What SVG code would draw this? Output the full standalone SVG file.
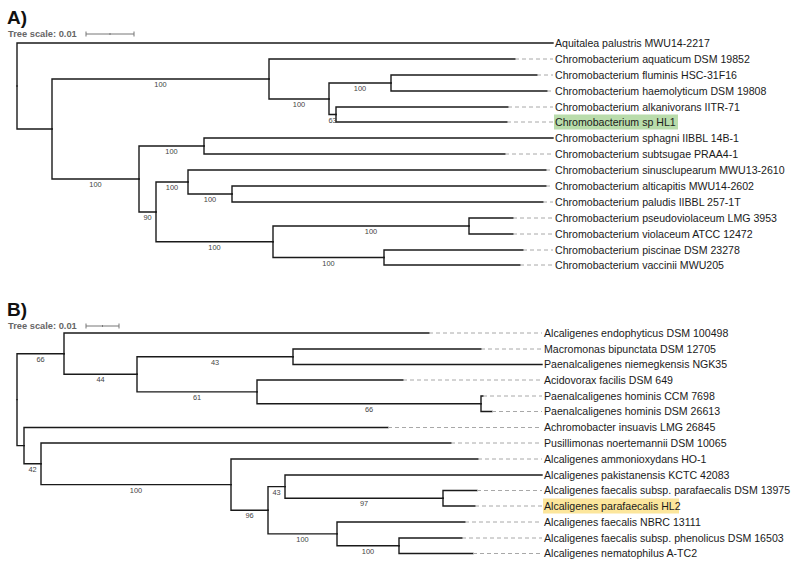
<svg xmlns="http://www.w3.org/2000/svg" width="798" height="571" viewBox="0 0 798 571">
<style>
text{font-family:"Liberation Sans",Arial,sans-serif}
.br{fill:none;stroke:#1a1a1a;stroke-width:1.4;stroke-linecap:square}
.ds{fill:none;stroke:#a8a8a8;stroke-width:1;stroke-dasharray:4 3}
.lf{font-size:10.6px;fill:#1a1a1a}
.bs{font-size:7.4px;fill:#444;text-anchor:middle}
.ttl{font-size:19px;font-weight:bold;fill:#111}
.sc{font-size:9.3px;font-weight:bold;fill:#666}
.sb{fill:none;stroke:#777;stroke-width:1}
</style>
<rect width="798" height="571" fill="#fff"/>

<g id="panelA-header">
<text class="ttl" x="7" y="24">A)</text>
<text class="sc" x="8" y="37">Tree scale: 0.01</text>
<path class="sb" d="M86,34H134M86,31.5V36.5M134,31.5V36.5M110,33V35"/>
</g>
<g id="panelB-header">
<text class="ttl" x="7" y="316">B)</text>
<text class="sc" x="8" y="329">Tree scale: 0.01</text>
<path class="sb" d="M86,326H119M86,323.5V328.5M119,323.5V328.5M102.5,325V327"/>
</g>

<g id="connectors">
<!-- Panel A branches -->
<path class="br" d="M17,86V43H553"/>
<path class="br" d="M17,86V129H52"/>
<path class="br" d="M52,129V79H269"/>
<path class="br" d="M52,129V179H139"/>
<path class="br" d="M269,79V59H515"/>
<path class="br" d="M269,79V99H329"/>
<path class="br" d="M329,99V83H391"/>
<path class="br" d="M329,99V114.5H336"/>
<path class="br" d="M391,83V75H537"/>
<path class="br" d="M391,83V91H547"/>
<path class="br" d="M336,114.5V107H508"/>
<path class="br" d="M336,114.5V122H507"/>
<path class="br" d="M139,179V146H204"/>
<path class="br" d="M139,179V212H156"/>
<path class="br" d="M204,146V138H553"/>
<path class="br" d="M204,146V154H505"/>
<path class="br" d="M156,212V182H188"/>
<path class="br" d="M156,212V241.75H273"/>
<path class="br" d="M188,182V170H546"/>
<path class="br" d="M188,182V194H232"/>
<path class="br" d="M232,194V186H546"/>
<path class="br" d="M232,194V202H543"/>
<path class="br" d="M273,241.75V226H469"/>
<path class="br" d="M273,241.75V257.5H384"/>
<path class="br" d="M469,226V218H513"/>
<path class="br" d="M469,226V234H513"/>
<path class="br" d="M384,257.5V250H523"/>
<path class="br" d="M384,257.5V265H520"/>
<!-- Panel A dashed extensions -->
<path class="ds" d="M515,59H553M537,75H553M547,91H553M508,107H553M507,122H553M505,154H553M546,170H553M546,186H553M543,202H553M513,218H553M513,234H553M523,250H553M520,265H553"/>

<!-- Panel B branches -->
<path class="br" d="M17,399.6V353.7H64"/>
<path class="br" d="M17,399.6V445.6H24"/>
<path class="br" d="M64,353.7V333H429"/>
<path class="br" d="M64,353.7V374.3H137"/>
<path class="br" d="M137,374.3V356.75H293"/>
<path class="br" d="M137,374.3V391.9H257"/>
<path class="br" d="M293,356.75V349H481"/>
<path class="br" d="M293,356.75V364.5H542"/>
<path class="br" d="M257,391.9V380H403"/>
<path class="br" d="M257,391.9V403.75H481"/>
<path class="br" d="M481,403.75V396H483"/>
<path class="br" d="M481,403.75V411.5H492"/>
<path class="br" d="M24,445.6V427.5H388"/>
<path class="br" d="M24,445.6V463.8H41"/>
<path class="br" d="M41,463.8V443H451"/>
<path class="br" d="M41,463.8V484.6H231"/>
<path class="br" d="M231,484.6V459H478"/>
<path class="br" d="M231,484.6V510.25H268"/>
<path class="br" d="M268,510.25V486.6H285"/>
<path class="br" d="M268,510.25V533.9H337"/>
<path class="br" d="M285,486.6V475H542"/>
<path class="br" d="M285,486.6V498.25H443"/>
<path class="br" d="M443,498.25V490.5H477"/>
<path class="br" d="M443,498.25V506H475"/>
<path class="br" d="M337,533.9V522H465"/>
<path class="br" d="M337,533.9V545.75H399"/>
<path class="br" d="M399,545.75V538H462"/>
<path class="br" d="M399,545.75V553.5H473"/>
<!-- Panel B dashed extensions -->
<path class="ds" d="M429,333H542M481,349H542M403,380H542M483,396H542M492,411.5H542M388,427.5H542M451,443H542M478,459H542M477,490.5H542M475,506H542M465,522H542M462,538H542M473,553.5H542"/>
</g>

<g id="support-values">
<text class="bs" x="160.5" y="87">100</text>
<text class="bs" x="95.5" y="187">100</text>
<text class="bs" x="299" y="107">100</text>
<text class="bs" x="360" y="91">100</text>
<text class="bs" x="332.5" y="122.5">63</text>
<text class="bs" x="171.5" y="154">100</text>
<text class="bs" x="147.5" y="220">90</text>
<text class="bs" x="172" y="190">100</text>
<text class="bs" x="210" y="202">100</text>
<text class="bs" x="214.5" y="249.75">100</text>
<text class="bs" x="371" y="234">100</text>
<text class="bs" x="328.5" y="265.5">100</text>

<text class="bs" x="40.5" y="361.7">66</text>
<text class="bs" x="100.5" y="382.3">44</text>
<text class="bs" x="215" y="364.75">43</text>
<text class="bs" x="197" y="399.9">61</text>
<text class="bs" x="369" y="411.75">66</text>
<text class="bs" x="32.5" y="471.8">42</text>
<text class="bs" x="136" y="492.6">100</text>
<text class="bs" x="249.5" y="518.25">96</text>
<text class="bs" x="276.5" y="494.6">43</text>
<text class="bs" x="302.5" y="541.9">100</text>
<text class="bs" x="364" y="506.25">97</text>
<text class="bs" x="368" y="553.75">100</text>
</g>

<g id="A-aquitalea-palustris"><text class="lf" x="555" y="46.8">Aquitalea palustris MWU14-2217</text></g>
<g id="A-aquaticum"><text class="lf" x="555" y="62.8">Chromobacterium aquaticum DSM 19852</text></g>
<g id="A-fluminis"><text class="lf" x="555" y="78.8">Chromobacterium fluminis HSC-31F16</text></g>
<g id="A-haemolyticum"><text class="lf" x="555" y="94.8">Chromobacterium haemolyticum DSM 19808</text></g>
<g id="A-alkanivorans"><text class="lf" x="555" y="110.8">Chromobacterium alkanivorans IITR-71</text></g>
<g id="A-sp-HL1"><rect x="554" y="114.5" width="124" height="15" fill="#b9dcab"/><text class="lf" x="555" y="125.8">Chromobacterium sp HL1</text></g>
<g id="A-sphagni"><text class="lf" x="555" y="141.8">Chromobacterium sphagni IIBBL 14B-1</text></g>
<g id="A-subtsugae"><text class="lf" x="555" y="157.8">Chromobacterium subtsugae PRAA4-1</text></g>
<g id="A-sinusclupearum"><text class="lf" x="555" y="173.8">Chromobacterium sinusclupearum MWU13-2610</text></g>
<g id="A-alticapitis"><text class="lf" x="555" y="189.8">Chromobacterium alticapitis MWU14-2602</text></g>
<g id="A-paludis"><text class="lf" x="555" y="205.8">Chromobacterium paludis IIBBL 257-1T</text></g>
<g id="A-pseudoviolaceum"><text class="lf" x="555" y="221.8">Chromobacterium pseudoviolaceum LMG 3953</text></g>
<g id="A-violaceum"><text class="lf" x="555" y="237.8">Chromobacterium violaceum ATCC 12472</text></g>
<g id="A-piscinae"><text class="lf" x="555" y="253.8">Chromobacterium piscinae DSM 23278</text></g>
<g id="A-vaccinii"><text class="lf" x="555" y="268.8">Chromobacterium vaccinii MWU205</text></g>

<g id="B-endophyticus"><text class="lf" x="544" y="336.8">Alcaligenes endophyticus DSM 100498</text></g>
<g id="B-macromonas"><text class="lf" x="544" y="352.8">Macromonas bipunctata DSM 12705</text></g>
<g id="B-niemegkensis"><text class="lf" x="544" y="368.3">Paenalcaligenes niemegkensis NGK35</text></g>
<g id="B-acidovorax"><text class="lf" x="544" y="383.8">Acidovorax facilis DSM 649</text></g>
<g id="B-hominis-CCM"><text class="lf" x="544" y="399.8">Paenalcaligenes hominis CCM 7698</text></g>
<g id="B-hominis-DSM"><text class="lf" x="544" y="415.3">Paenalcaligenes hominis DSM 26613</text></g>
<g id="B-achromobacter"><text class="lf" x="544" y="431.3">Achromobacter insuavis LMG 26845</text></g>
<g id="B-pusillimonas"><text class="lf" x="544" y="446.8">Pusillimonas noertemannii DSM 10065</text></g>
<g id="B-ammonioxydans"><text class="lf" x="544" y="462.8">Alcaligenes ammonioxydans HO-1</text></g>
<g id="B-pakistanensis"><text class="lf" x="544" y="478.8">Alcaligenes pakistanensis KCTC 42083</text></g>
<g id="B-faecalis-parafaecalis"><text class="lf" x="544" y="494.3">Alcaligenes faecalis subsp. parafaecalis DSM 13975</text></g>
<g id="B-parafaecalis-HL2"><rect x="543" y="498.5" width="136" height="15" fill="#fce69c"/><text class="lf" x="544" y="509.8">Alcaligenes parafaecalis HL2</text></g>
<g id="B-faecalis-NBRC"><text class="lf" x="544" y="525.8">Alcaligenes faecalis NBRC 13111</text></g>
<g id="B-phenolicus"><text class="lf" x="544" y="541.8">Alcaligenes faecalis subsp. phenolicus DSM 16503</text></g>
<g id="B-nematophilus"><text class="lf" x="544" y="557.3">Alcaligenes nematophilus A-TC2</text></g>
</svg>
